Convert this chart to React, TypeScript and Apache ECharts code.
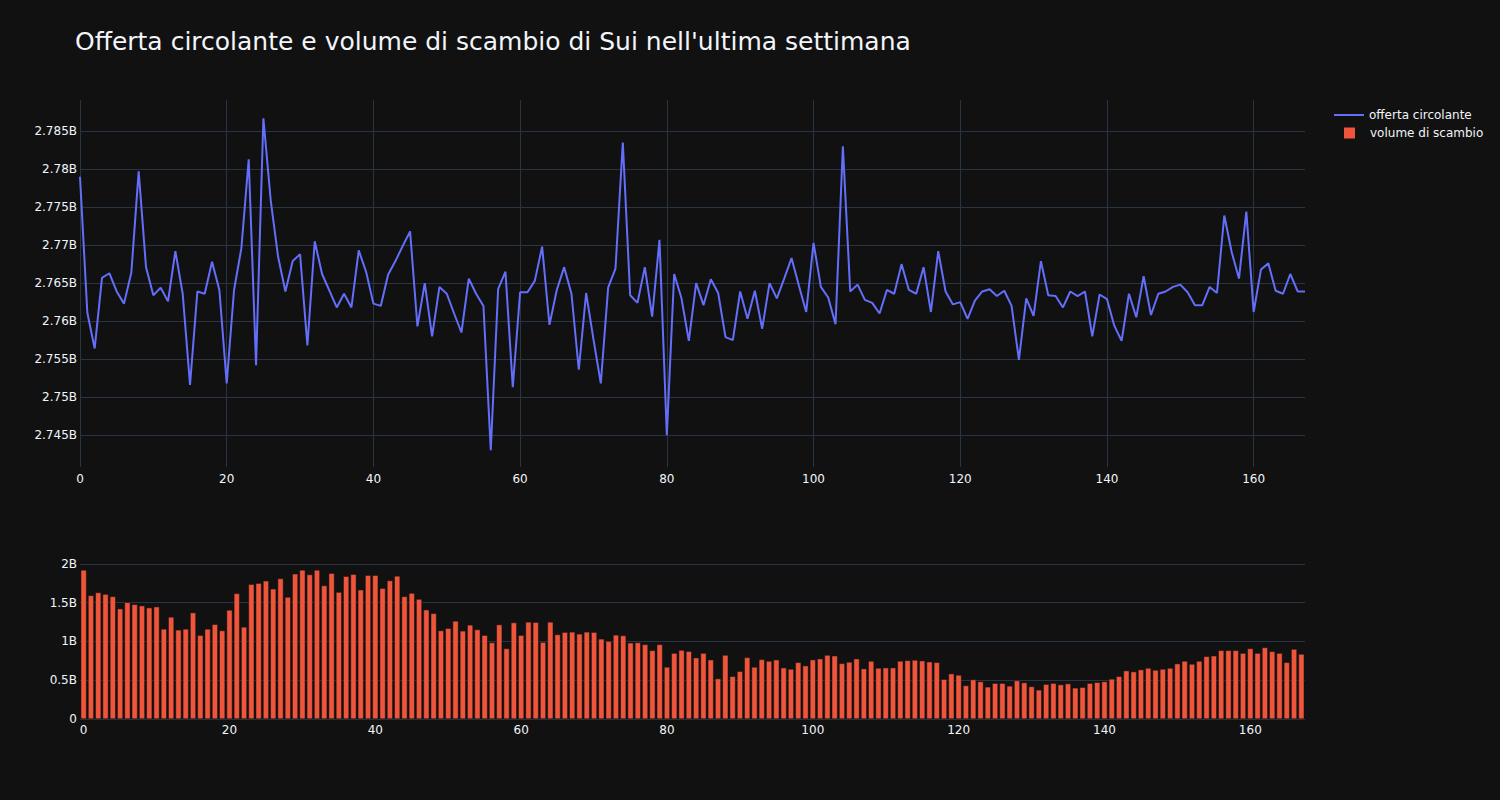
import React, { useEffect, useRef } from "react";
import * as echarts from "echarts";

const TITLE = "Offerta circolante e volume di scambio di Sui nell'ultima settimana";
const SUPPLY_NAME = "offerta circolante";
const VOLUME_NAME = "volume di scambio";

// hourly index over the last week
const hours: number[] = Array.from({ length: 168 }, (_, i) => i);

// circulating supply, billions
const supply: number[] = [
  2.779, 2.7611, 2.7564, 2.7657, 2.7663, 2.7639, 2.7623, 2.7664, 2.7797, 2.7671,
  2.7634, 2.7644, 2.7626, 2.7692, 2.7636, 2.7516, 2.7639, 2.7636, 2.7678, 2.7641,
  2.7518, 2.7641, 2.7696, 2.7813, 2.7542, 2.7867, 2.7759, 2.7685, 2.7639, 2.7679,
  2.7688, 2.7568, 2.7705, 2.7662, 2.764, 2.7618, 2.7636, 2.7618, 2.7693, 2.7665,
  2.7623, 2.762, 2.7661, 2.7679, 2.7699, 2.7718, 2.7593, 2.765, 2.758, 2.7645,
  2.7636, 2.761, 2.7585, 2.7656, 2.7636, 2.762, 2.743, 2.7642, 2.7665, 2.7513,
  2.7638, 2.7638, 2.7653, 2.7698, 2.7595, 2.7641, 2.7671, 2.7636, 2.7536, 2.7637,
  2.7576, 2.7518, 2.7644, 2.7669, 2.7835, 2.7634, 2.7624, 2.7671, 2.7606, 2.7707,
  2.745, 2.7662, 2.763, 2.7574, 2.765, 2.7621, 2.7655, 2.7637, 2.7579, 2.7575,
  2.7639, 2.7603, 2.764, 2.759, 2.765, 2.763, 2.7656, 2.7683, 2.7647, 2.7612,
  2.7703, 2.7645, 2.7631, 2.7596, 2.783, 2.7639, 2.7648, 2.7628, 2.7624, 2.761,
  2.7641, 2.7636, 2.7675, 2.7641, 2.7636, 2.7671, 2.7612, 2.7692, 2.7639, 2.7622,
  2.7625, 2.7603, 2.7627, 2.7639, 2.7642, 2.7633, 2.764, 2.762, 2.7549, 2.763,
  2.7607, 2.7679, 2.7634, 2.7633, 2.7618, 2.7639, 2.7633, 2.7639, 2.758, 2.7635,
  2.7629, 2.7594, 2.7574, 2.7636, 2.7605, 2.7659, 2.7608, 2.7636, 2.7639, 2.7645,
  2.7648, 2.7638, 2.7621, 2.7621, 2.7645, 2.7637, 2.7739, 2.7691, 2.7656, 2.7744,
  2.7612, 2.7668, 2.7676, 2.764, 2.7636, 2.7662, 2.7639, 2.7639,
];

// trading volume, billions
const volume: number[] = [
  1.923, 1.594, 1.632, 1.611, 1.581, 1.423, 1.504, 1.479, 1.462, 1.436,
  1.449, 1.162, 1.316, 1.15, 1.162, 1.372, 1.081, 1.162, 1.222, 1.141,
  1.406, 1.62, 1.188, 1.739, 1.752, 1.782, 1.679, 1.812, 1.573, 1.872,
  1.923, 1.863, 1.923, 1.722, 1.88, 1.637, 1.842, 1.868, 1.667, 1.855,
  1.855, 1.688, 1.786, 1.846, 1.581, 1.624, 1.547, 1.41, 1.363, 1.141,
  1.171, 1.265, 1.137, 1.214, 1.154, 1.081, 0.987, 1.218, 0.91, 1.244,
  1.081, 1.252, 1.248, 0.991, 1.252, 1.09, 1.12, 1.124, 1.098, 1.124,
  1.12, 1.034, 1.004, 1.085, 1.077, 0.983, 0.987, 0.962, 0.885, 0.962,
  0.671, 0.85, 0.889, 0.874, 0.791, 0.85, 0.765, 0.521, 0.825, 0.551,
  0.615, 0.795, 0.671, 0.769, 0.748, 0.765, 0.662, 0.645, 0.731, 0.688,
  0.765, 0.778, 0.825, 0.816, 0.718, 0.735, 0.778, 0.65, 0.748, 0.658,
  0.662, 0.662, 0.748, 0.756, 0.761, 0.752, 0.739, 0.731, 0.513, 0.585,
  0.568, 0.432, 0.509, 0.483, 0.415, 0.462, 0.462, 0.427, 0.496, 0.47,
  0.419, 0.376, 0.449, 0.462, 0.444, 0.457, 0.402, 0.41, 0.462, 0.474,
  0.483, 0.517, 0.551, 0.624, 0.611, 0.637, 0.658, 0.632, 0.645, 0.658,
  0.714, 0.748, 0.709, 0.748, 0.808, 0.816, 0.885, 0.885, 0.885, 0.85,
  0.91, 0.85, 0.923, 0.872, 0.85, 0.731, 0.902, 0.838,
];

const FONT = "DejaVu Sans";
const TEXT = "#f2f5fa";
const GRID = "#283442";
const BG = "#111111";

function fmtB(v: number): string {
  if (Math.abs(v) < 1e-12) return "0";
  return String(+v.toFixed(3)) + "B";
}

export default function App() {
  const ref = useRef<HTMLDivElement>(null);

  useEffect(() => {
    document.body.style.margin = "0";
    document.body.style.background = BG;
    if (!ref.current) return;
    const chart = echarts.init(ref.current, undefined, { renderer: "svg" });

    const option: any = {
      animation: false,
      backgroundColor: BG,
      textStyle: { fontFamily: FONT },
      title: {
        text: TITLE,
        left: 75,
        top: 29,
        padding: 0,
        textStyle: { color: TEXT, fontSize: 25, fontWeight: "normal", fontFamily: FONT },
      },
      legend: [
        {
          data: [{ name: SUPPLY_NAME, icon: "rect" }],
          left: 1334,
          top: 109,
          padding: 0,
          itemWidth: 30,
          itemHeight: 2,
          selectedMode: false,
          textStyle: { color: TEXT, fontSize: 12, fontFamily: FONT },
        },
        {
          data: [{ name: VOLUME_NAME, icon: "rect" }],
          left: 1344,
          top: 127,
          padding: 0,
          itemWidth: 11,
          itemHeight: 11,
          selectedMode: false,
          itemStyle: { borderWidth: 0 },
          textStyle: { color: TEXT, fontSize: 12, fontFamily: FONT, padding: [0, 0, 0, 10] },
        },
      ],
      grid: [
        { left: 80, top: 100, width: 1225, height: 367 },
        { left: 80, top: 562, width: 1225, height: 157 },
      ],
      xAxis: [
        {
          type: "value",
          gridIndex: 0,
          min: 0,
          max: 167,
          interval: 20,
          axisLine: { show: false },
          axisTick: { show: false },
          axisLabel: { color: TEXT, fontSize: 12, fontFamily: FONT, margin: 6, showMaxLabel: false },
          splitLine: { show: true, showMaxLine: false, lineStyle: { color: GRID, width: 1 } },
        },
        {
          type: "category",
          gridIndex: 1,
          data: hours,
          boundaryGap: true,
          axisLine: { show: false },
          axisTick: { show: false },
          axisLabel: { color: TEXT, fontSize: 12, fontFamily: FONT, margin: 5, interval: 19 },
          splitLine: { show: false },
        },
      ],
      yAxis: [
        {
          type: "value",
          gridIndex: 0,
          min: 2.7408,
          max: 2.7891,
          splitNumber: 10,
          scale: true,
          axisLine: { show: false },
          axisTick: { show: false },
          axisLabel: {
            color: TEXT,
            fontSize: 12,
            fontFamily: FONT,
            margin: 3,
            showMinLabel: false,
            showMaxLabel: false,
            formatter: fmtB,
          },
          splitLine: { show: true, showMinLine: false, showMaxLine: false, lineStyle: { color: GRID, width: 1 } },
        },
        {
          type: "value",
          gridIndex: 1,
          min: 0,
          max: 2.025,
          interval: 0.5,
          axisLine: { show: false },
          axisTick: { show: false },
          axisLabel: {
            color: TEXT,
            fontSize: 12,
            fontFamily: FONT,
            margin: 3,
            showMaxLabel: false,
            formatter: fmtB,
          },
          splitLine: { show: true, showMaxLine: false, lineStyle: { color: GRID, width: 1 } },
        },
      ],
      series: [
        {
          name: SUPPLY_NAME,
          type: "line",
          xAxisIndex: 0,
          yAxisIndex: 0,
          data: supply.map((v, i) => [hours[i], v]),
          symbol: "none",
          lineStyle: { color: "#636efa", width: 2 },
          itemStyle: { color: "#636efa" },
        },
        {
          name: VOLUME_NAME,
          type: "bar",
          xAxisIndex: 1,
          yAxisIndex: 1,
          data: volume,
          barCategoryGap: "20%",
          itemStyle: { color: "#EF553B", borderColor: BG, borderWidth: 0.5 },
        },
      ],
    };

    chart.setOption(option);
    return () => chart.dispose();
  }, []);

  return <div ref={ref} style={{ width: 1500, height: 800 }} />;
}
